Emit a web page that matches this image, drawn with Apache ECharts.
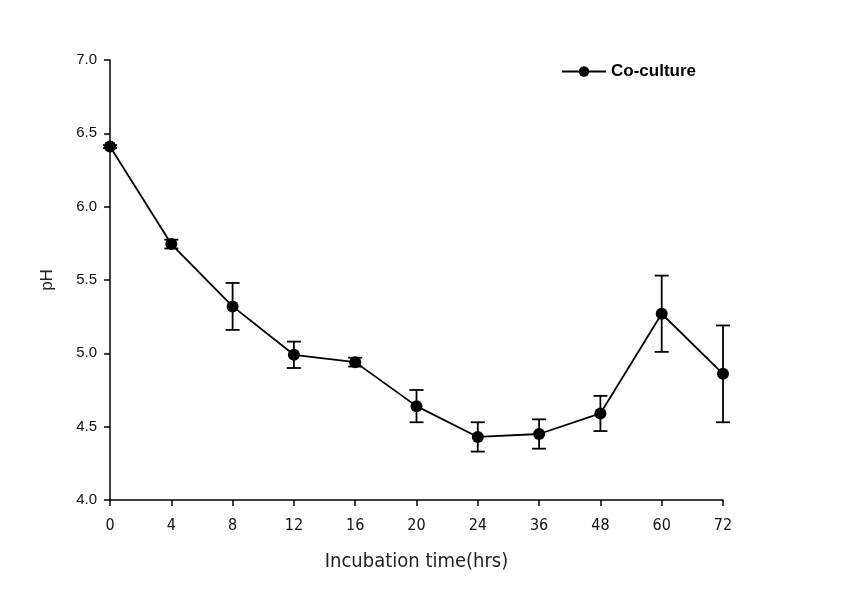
<!DOCTYPE html>
<html><head><meta charset="utf-8">
<script src="https://cdn.jsdelivr.net/npm/echarts@6/dist/echarts.min.js"></script>
<style>html,body{margin:0;padding:0;background:#fff}#c{width:846px;height:616px}</style>
</head><body><div id="c"></div>
<script>
const categories = ['0','4','8','12','16','20','24','36','48','60','72'];
const phValues = [6.41, 5.745, 5.32, 4.99, 4.94, 4.64, 4.43, 4.45, 4.59, 5.27, 4.86];
const phErrors = [0.01, 0.03, 0.16, 0.09, 0.03, 0.11, 0.10, 0.10, 0.12, 0.26, 0.33];
const yTicks = [4.0, 4.5, 5.0, 5.5, 6.0, 6.5, 7.0];

const errData = categories.map((c, i) => [i, phValues[i] - phErrors[i], phValues[i] + phErrors[i]]);
const font = 'Liberation Sans, Arial, sans-serif';
const narrow = "'Liberation Sans Narrow', 'Arial Narrow', 'DejaVu Sans Condensed', sans-serif";
const chart = echarts.init(document.getElementById('c'));
chart.setOption({
  animation: false,
  backgroundColor: '#fff',
  grid: {left: 110, right: 123, top: 60, bottom: 116},
  legend: {
    left: 556, top: 58, itemWidth: 44, itemHeight: 13, itemGap: 8,
    textStyle: {fontFamily: font, fontSize: 17, fontWeight: 'bold', color: '#000'},
    data: ['Co-culture']
  },
  xAxis: {
    type: 'category', data: categories, boundaryGap: false,
    name: 'Incubation time(hrs)', nameLocation: 'middle', nameGap: 52,
    nameTextStyle: {fontFamily: narrow, fontSize: 20, color: '#222'},
    axisLine: {lineStyle: {color: '#000', width: 1.5}},
    axisTick: {show: true, length: 6, lineStyle: {color: '#000', width: 1.5}},
    axisLabel: {fontFamily: narrow, fontSize: 16, color: '#111', margin: 18},
    splitLine: {show: false}
  },
  yAxis: {
    type: 'value', min: yTicks[0], max: yTicks[yTicks.length - 1], interval: 0.5,
    name: 'pH', nameLocation: 'middle', nameGap: 54, nameRotate: 90, nameMoveOverlap: false,
    nameTextStyle: {fontFamily: font, fontSize: 17, color: '#222'},
    axisLine: {show: true, lineStyle: {color: '#000', width: 1.5}},
    axisTick: {show: true, length: 6, lineStyle: {color: '#000', width: 1.5}},
    axisLabel: {fontFamily: font, fontSize: 15, color: '#111', margin: 13, formatter: v => v.toFixed(1)},
    splitLine: {show: false}
  },
  series: [
    {
      type: 'custom', name: 'err', silent: true, z: 3,
      renderItem: function (params, api) {
        const x = api.value(0);
        const lo = api.coord([x, api.value(1)]);
        const hi = api.coord([x, api.value(2)]);
        const hw = 7;
        const st = {stroke: '#000', lineWidth: 1.8};
        return {type: 'group', children: [
          {type: 'line', shape: {x1: lo[0], y1: lo[1], x2: hi[0], y2: hi[1]}, style: st},
          {type: 'line', shape: {x1: lo[0] - hw, y1: lo[1], x2: lo[0] + hw, y2: lo[1]}, style: st},
          {type: 'line', shape: {x1: hi[0] - hw, y1: hi[1], x2: hi[0] + hw, y2: hi[1]}, style: st}
        ]};
      },
      encode: {x: 0, y: [1, 2]},
      data: errData
    },
    {
      type: 'line', name: 'Co-culture', data: phValues, z: 4,
      symbol: 'circle', symbolSize: 12,
      lineStyle: {color: '#000', width: 1.8},
      itemStyle: {color: '#000'}
    }
  ]
});
</script></body></html>
